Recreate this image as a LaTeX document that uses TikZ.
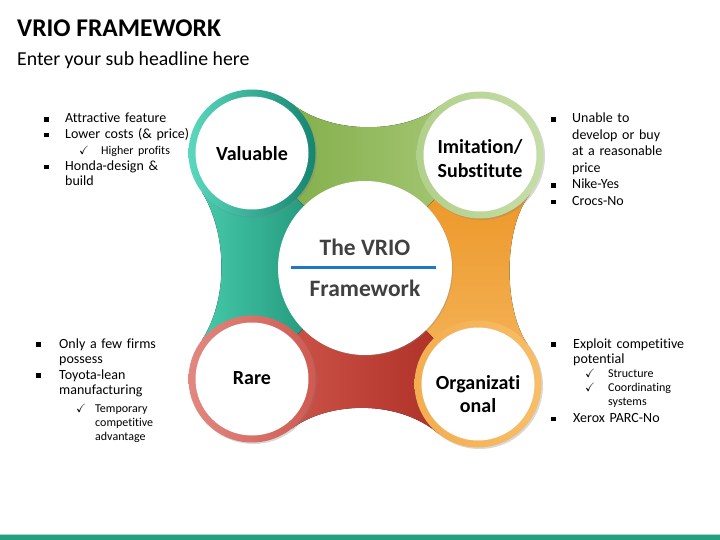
\documentclass[tikz,border=0pt]{standalone}
\usepackage{fontspec}
\setmainfont{Carlito}[Ligatures=NoCommon]
\usepackage{amssymb}
\usetikzlibrary{shadows}
\definecolor{tealL}{HTML}{45C9A9}
\definecolor{tealD}{HTML}{138166}
\definecolor{valL}{HTML}{5AD8BD}
\definecolor{valD}{HTML}{168470}
\definecolor{grnL}{HTML}{7DAA43}
\definecolor{grnR}{HTML}{A9CA7A}
\definecolor{imiL}{HTML}{B1D08A}
\definecolor{imiR}{HTML}{C6DDA8}
\definecolor{orgT}{HTML}{EB921F}
\definecolor{orgB}{HTML}{F5B65E}
\definecolor{orgRL}{HTML}{F3AD4F}
\definecolor{orgRR}{HTML}{F7BE68}
\definecolor{redL}{HTML}{D35A50}
\definecolor{redR}{HTML}{A8291F}
\definecolor{rarL}{HTML}{E18880}
\definecolor{rarR}{HTML}{CF5A52}
\definecolor{hubtext}{HTML}{404040}
\definecolor{hubline}{HTML}{1F77C9}
\definecolor{footer}{HTML}{22A07F}
\definecolor{footerL}{HTML}{A8D8CC}
\pgfdeclarelayer{bands}
\pgfsetlayers{bands,main}
\newcommand{\mainpt}[2][21pt]{\noindent\hangindent=#1\hangafter=1%
  \makebox[#1][l]{\rule[1.2pt]{4.5pt}{4.5pt}}#2\par}
\newcommand{\chkpt}[4][0pt]{{\fontsize{12}{14}\selectfont\vspace*{#1}\noindent\hangindent=#3\hangafter=1%
  \hspace*{#2}\makebox[\dimexpr#3-#2\relax][l]{\checkmark}#4\par}}
\tikzset{
  ring/.style={circle, minimum size=127pt, inner sep=0pt, outer sep=0pt,
    drop shadow={opacity=0.3, shadow xshift=1.5pt, shadow yshift=-1.5pt}},
  core/.style={circle, fill=white, minimum size=113pt, inner sep=0pt},
  corelabel/.style={align=center, inner sep=0pt, font=\fontsize{20}{23.5}\selectfont\bfseries},
  hubtxt/.style={anchor=base, text=hubtext, font=\fontsize{23.5}{26}\selectfont\bfseries},
  notes/.style={anchor=base west, inner sep=0pt, text width=180pt,
    font=\fontsize{14}{15.5}\selectfont},
}
\begin{document}
\begin{tikzpicture}[x=1pt, y=-1pt]
\useasboundingbox (0,0) rectangle (720,540);
% heading
\node[anchor=base west, inner sep=0pt, font=\fontsize{25.5}{30}\selectfont\bfseries] (title) at (17,37) {VRIO FRAMEWORK};
\node[anchor=base west, inner sep=0pt, font=\fontsize{19.8}{24}\selectfont] (subtitle) at (17,66) {Enter your sub headline here};

% hub and rings
\node[circle, fill=white, minimum size=174pt, inner sep=0pt, outer sep=0pt,
  drop shadow={opacity=0.3, shadow xshift=1pt, shadow yshift=-1pt}] (hub) at (365,268) {};
\node[ring, left color=valL, right color=valD] (valR) at (252,153) {};
\node[ring, left color=imiL, right color=imiR] (imiR) at (480,155) {};
\node[ring, left color=rarL, right color=rarR] (rarR) at (252,379) {};
\node[ring, left color=orgRL, right color=orgRR] (orgR) at (478,384) {};
\node[core] (valC) at (valR) {};
\node[core] (imiC) at (imiR) {};
\node[core] (rarC) at (rarR) {};
\node[core] (orgC) at (orgR) {};
\node[corelabel] (val) at (252,154) {Valuable};
\node[corelabel] (imi) at (480,158.5) {Imitation/\\Substitute};
\node[corelabel] (rar) at (252,378) {Rare};
\node[corelabel] (org) at (478,394) {Organizati\\onal};

% bands between the rings
\begin{pgfonlayer}{bands}
\fill[left color=grnL, right color=grnR] (valR.center) -- (valR.52)
  .. controls (330,135) and (405,135) .. (imiR.128) -- (imiR.center) -- (hub.center) -- cycle;
\fill[top color=orgT, bottom color=orgB] (imiR.center) -- (imiR.-38)
  .. controls (503,228) and (503,310) .. (orgR.38) -- (orgR.center) -- (hub.center) -- cycle;
\fill[left color=redL, right color=redR] (orgR.center) -- (orgR.-128)
  .. controls (400,400) and (330,400) .. (rarR.-52) -- (rarR.center) -- (hub.center) -- cycle;
\fill[left color=tealL, right color=tealD] (rarR.center) -- (rarR.142)
  .. controls (228,300) and (228,235) .. (valR.-142) -- (valR.center) -- (hub.center) -- cycle;
\end{pgfonlayer}

% hub text
\node[hubtxt] (hubtop) at (365,255) {The VRIO};
\node[hubtxt] (hubbot) at (365,296) {Framework};
\coordinate (ruleL) at (291,267);
\coordinate (ruleR) at (436,267);
\draw[hubline, line width=3pt] (ruleL) -- (ruleR);

% notes
\node[notes] (noteV) at (44,123) {\raggedright
  \mainpt{Attractive feature}
  \mainpt{Lower costs (\& price)}
  \chkpt[2pt]{35pt}{57pt}{Higher profits}
  \vspace*{0.5pt}
  \mainpt{Honda-design \&\newline build}};
\node[notes, font=\fontsize{14}{16.5}\selectfont] (noteI) at (551,123) {\raggedright
  \mainpt{Unable to\newline develop or buy\newline at a reasonable\newline price}
  \mainpt{Nike-Yes}
  \mainpt{Crocs-No}};
\node[notes] (noteR) at (36,348) {\raggedright
  \mainpt[23pt]{Only a few firms\newline possess}
  \mainpt[23pt]{Toyota-lean\newline manufacturing}
  \chkpt[4pt]{40pt}{59pt}{Temporary\newline competitive\newline advantage}};
\node[notes] (noteO) at (551,348) {\raggedright
  \mainpt[22pt]{Exploit competitive\newline potential}
  \chkpt{34pt}{57pt}{Structure}
  \chkpt{34pt}{57pt}{Coordinating\newline systems}
  \vspace*{1.5pt}
  \mainpt[22pt]{Xerox PARC-No}};

% footer bar
\fill[footerL] (0,533.5) rectangle (720,535);
\fill[footer] (0,535) rectangle (720,540);
\end{tikzpicture}
\end{document}
